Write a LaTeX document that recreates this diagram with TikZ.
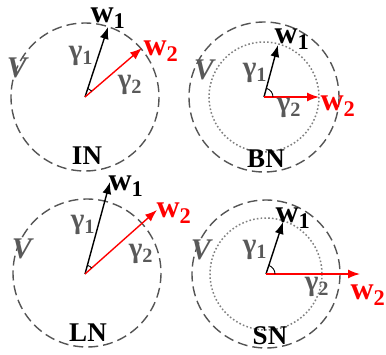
\documentclass[tikz,border=0pt]{standalone}
\usepackage{fontspec}
\usepackage{amsmath}
\setmainfont{Liberation Serif}
\usetikzlibrary{arrows.meta,angles}

\definecolor{ringgray}{HTML}{555555}
\definecolor{labelgray}{HTML}{595959}
\definecolor{wred}{HTML}{FF0000}

\tikzset{
  ring/.style={draw=ringgray, line width=1.4pt, dash pattern=on 10pt off 5pt},
  inring/.style={draw=gray, line width=1.5pt, dash pattern=on 1.6pt off 2.2pt},
  vecone/.style={-{Latex[length=12pt,width=9pt]}, line width=1.4pt, black},
  vectwo/.style={-{Latex[length=12pt,width=9pt]}, line width=1.4pt, wred},
  wlab/.style={font=\fontsize{32}{32}\selectfont\bfseries, inner sep=0pt, anchor=base,
    text height=14pt, text depth=4pt},
  glab/.style={font=\fontsize{29}{30}\selectfont\bfseries, text=labelgray, inner sep=0pt},
  vlab/.style={font=\fontsize{30}{30}\selectfont\bfseries\itshape, text=labelgray, inner sep=0pt},
  tag/.style={font=\fontsize{27}{28}\selectfont\bfseries, inner sep=0pt},
  gap/.style={draw, line width=0.9pt, angle radius=9pt}
}

\begin{document}
\begin{tikzpicture}[x=1pt, y=-1pt]
\useasboundingbox (0,0) rectangle (386,354);

% IN (top left)
\coordinate (O1) at (85,97);
\coordinate (A1) at (108,27);
\coordinate (B1) at (142,48);
\draw[ring] (O1) circle (74);
\draw[vecone] (O1) -- (A1);
\draw[vectwo] (O1) -- (B1);
\pic[gap] {angle = B1--O1--A1};

% BN (top right)
\coordinate (O2) at (264,97);
\coordinate (A2) at (278,45);
\coordinate (B2) at (319,97);
\draw[ring] (O2) circle (75);
\draw[inring] (O2) circle (55);
\draw[vecone] (O2) -- (A2);
\draw[vectwo] (O2) -- (B2);
\pic[gap] {angle = B2--O2--A2};

% LN (bottom left)
\coordinate (O3) at (85,274);
\coordinate (A3) at (110,182);
\coordinate (B3) at (157,210);
\draw[ring] (87,273) circle (74);
\draw[vecone] (O3) -- (A3);
\draw[vectwo] (O3) -- (B3);
\pic[gap] {angle = B3--O3--A3};

% SN (bottom right)
\coordinate (O4) at (266,274);
\coordinate (A4) at (283,222);
\coordinate (B4) at (360,274);
\draw[ring] (O4) circle (74);
\draw[inring] (O4) circle (56);
\draw[vecone] (O4) -- (A4);
\draw[vectwo] (O4) -- (B4);
\pic[gap] {angle = B4--O4--A4};

% Labels
\node[wlab] (w1a) at (108,22) {w\textsubscript{1}};
\node[wlab, text=wred] (w2a) at (161,55) {w\textsubscript{2}};
\node[glab] (g1a) at (81,56) {γ\textsubscript{1}};
\node[glab] (g2a) at (130,85) {γ\textsubscript{2}};
\node[vlab] (va) at (17,68) {V};
\node[tag] (ina) at (87,156) {IN};

\node[wlab] (w1b) at (292,43) {w\textsubscript{1}};
\node[wlab, text=wred] (w2b) at (338,110) {w\textsubscript{2}};
\node[glab] (g1b) at (255,73) {γ\textsubscript{1}};
\node[glab] (g2b) at (289,108) {γ\textsubscript{2}};
\node[vlab] (vb) at (204,70) {V};
\node[tag] (inb) at (266,159) {BN};

\node[wlab] (w1c) at (126,190) {w\textsubscript{1}};
\node[wlab, text=wred] (w2c) at (174,217) {w\textsubscript{2}};
\node[glab] (g1c) at (83,225) {γ\textsubscript{1}};
\node[glab] (g2c) at (141,254) {γ\textsubscript{2}};
\node[vlab] (vc) at (22,249) {V};
\node[tag] (inc) at (88,333) {LN};

\node[wlab] (w1d) at (293,222) {w\textsubscript{1}};
\node[wlab, text=wred] (w2d) at (368,299) {w\textsubscript{2}};
\node[glab] (g1d) at (255,250) {γ\textsubscript{1}};
\node[glab] (g2d) at (317,287) {γ\textsubscript{2}};
\node[vlab] (vd) at (201,250) {V};
\node[tag] (ind) at (270,336) {SN};
\end{tikzpicture}
\end{document}
